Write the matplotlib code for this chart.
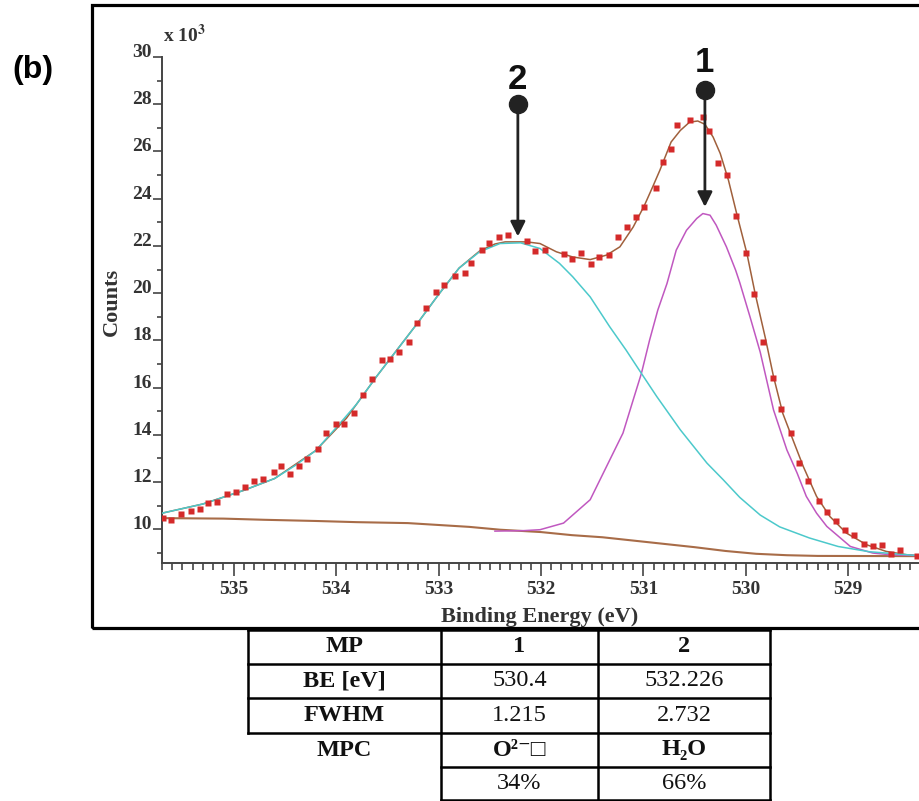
import matplotlib
matplotlib.use('Agg')
import matplotlib.pyplot as plt
from matplotlib.lines import Line2D
from matplotlib.patches import Rectangle
from matplotlib.ticker import MultipleLocator

# measured spectrum: binding energy (eV) vs counts (x 10^3)
pt_x = [535.69, 535.61, 535.51, 535.42, 535.33, 535.25, 535.16, 535.07, 534.98, 534.89,
        534.80, 534.71, 534.61, 534.54, 534.45, 534.36, 534.28, 534.18, 534.10, 534.00,
        533.92, 533.83, 533.74, 533.65, 533.55, 533.47, 533.39, 533.29, 533.21, 533.12,
        533.03, 532.95, 532.84, 532.74, 532.68, 532.58, 532.51, 532.41, 532.32, 532.14,
        532.06, 531.96, 531.78, 531.70, 531.61, 531.51, 531.43, 531.34, 531.25, 531.16,
        531.07, 530.99, 530.88, 530.81, 530.73, 530.67, 530.55, 530.42, 530.36, 530.27,
        530.18, 530.10, 530.00, 529.92, 529.83, 529.74, 529.66, 529.56, 529.48, 529.39,
        529.29, 529.21, 529.12, 529.03, 528.94, 528.85, 528.76, 528.67, 528.58, 528.50,
        528.33]
pt_y = [10.47, 10.40, 10.64, 10.78, 10.87, 11.11, 11.16, 11.50, 11.56, 11.77,
        12.05, 12.14, 12.42, 12.66, 12.36, 12.67, 12.98, 13.40, 14.07, 14.45,
        14.46, 14.94, 15.69, 16.35, 17.15, 17.20, 17.49, 17.92, 18.74, 19.37,
        20.04, 20.35, 20.72, 20.85, 21.26, 21.82, 22.13, 22.38, 22.48, 22.20,
        21.78, 21.83, 21.64, 21.45, 21.68, 21.23, 21.52, 21.61, 22.36, 22.80,
        23.23, 23.64, 24.47, 25.57, 26.12, 27.13, 27.32, 27.44, 26.86, 25.53,
        24.99, 23.27, 21.70, 19.95, 17.94, 16.42, 15.08, 14.08, 12.81, 12.05,
        11.19, 10.74, 10.33, 9.95, 9.75, 9.37, 9.27, 9.35, 8.96, 9.10,
        8.85]

# fit envelope
env_x = [535.7, 535.3, 534.9, 534.6, 534.2, 533.9, 533.6, 533.4, 533.2, 533.0,
         532.8, 532.6, 532.45, 532.35, 532.14, 532.01, 531.85, 531.69, 531.52, 531.36,
         531.23, 531.10, 530.99, 530.91, 530.84, 530.73, 530.64, 530.55, 530.47,
         530.40, 530.32, 530.25, 530.17, 530.09, 529.99, 529.91, 529.81, 529.73, 529.64,
         529.54, 529.44, 529.31, 529.18, 529.02, 528.82, 528.63, 528.43, 528.31]
env_y = [10.68, 11.07, 11.65, 12.15, 13.33, 14.70, 16.50, 17.63, 18.76, 19.94,
         21.06, 21.78, 22.08, 22.17, 22.17, 22.10, 21.75, 21.53, 21.42, 21.61,
         21.96, 22.80, 23.72, 24.50, 25.20, 26.40, 26.89, 27.24, 27.29,
         27.15, 26.61, 25.91, 24.78, 23.37, 21.68, 19.99, 18.10, 16.46, 14.91,
         13.78, 12.66, 11.39, 10.54, 9.84, 9.34, 9.06, 8.92, 8.88]

# component 2 (H2O)
c2_x = [535.7, 535.3, 534.9, 534.6, 534.4, 534.2, 534.0, 533.8, 533.6, 533.4,
        533.2, 533.0, 532.8, 532.6, 532.4, 532.2, 532.01, 531.82, 531.69, 531.52,
        531.33, 531.17, 531.02, 530.87, 530.64, 530.38, 530.22, 530.06, 529.86, 529.67,
        529.38, 529.1, 528.8, 528.31]
c2_y = [10.68, 11.07, 11.65, 12.15, 12.70, 13.33, 14.30, 15.30, 16.50, 17.63,
        18.76, 19.94, 21.06, 21.75, 22.10, 22.13, 21.89, 21.26, 20.69, 19.84,
        18.58, 17.59, 16.60, 15.62, 14.21, 12.80, 12.09, 11.35, 10.60, 10.10,
        9.63, 9.27, 9.05, 8.88]

# component 1 (O2-)
c1_x = [532.45, 532.17, 532.01, 531.78, 531.52, 531.36, 531.20, 531.10, 531.02, 530.94,
        530.86, 530.77, 530.68, 530.58, 530.48, 530.42, 530.35, 530.29, 530.19, 530.10,
        530.06, 529.96, 529.86, 529.73, 529.60, 529.50, 529.41, 529.31, 529.21, 528.98,
        528.76, 528.59, 528.3]
c1_y = [9.92, 9.94, 9.98, 10.26, 11.25, 12.66, 14.07, 15.48, 16.60, 18.01,
        19.28, 20.41, 21.82, 22.66, 23.16, 23.37, 23.30, 22.88, 21.96, 20.97,
        20.45, 19.00, 17.50, 15.05, 13.36, 12.38, 11.39, 10.68, 10.12, 9.27,
        8.99, 8.92, 8.88]

# background
bg_x = [535.7, 535.1, 534.7, 534.2, 533.8, 533.3, 533.0, 532.7, 532.4, 532.0,
        531.7, 531.4, 531.1, 530.8, 530.5, 530.2, 529.9, 529.6, 529.3, 528.3]
bg_y = [10.47, 10.45, 10.40, 10.35, 10.30, 10.26, 10.18, 10.10, 9.98, 9.88,
        9.75, 9.66, 9.52, 9.38, 9.24, 9.08, 8.96, 8.90, 8.87, 8.86]

peak_be = [530.4, 532.226]
peak_names = ['1', '2']
tip_y = [23.65, 22.4]
dot_y = [28.6, 28.0]
num_y = [29.75, 29.05]

table_rows = [
    ['MP', '1', '2'],
    ['BE [eV]', '530.4', '532.226'],
    ['FWHM', '1.215', '2.732'],
    ['MPC', 'O²⁻□', 'H₂O'],
    ['', '34%', '66%'],
]

W, H = 919, 801
plt.rcParams['font.family'] = ['Liberation Serif', 'DejaVu Serif', 'DejaVu Sans']
plt.rcParams['mathtext.fontset'] = 'stix'

fig = plt.figure(figsize=(W / 100, H / 100), dpi=100)
ax = fig.add_axes([162 / W, 1 - 563 / H, (919 - 162) / W, (563 - 57) / H])

ax.plot(bg_x, bg_y, color='#a86c48', lw=1.5, zorder=2)
ax.plot(env_x, env_y, color='#a0603c', lw=1.1, zorder=3)
ax.plot(c1_x, c1_y, color='#c058c0', lw=1.1, zorder=4)
ax.plot(c2_x, c2_y, color='#4cc9cb', lw=1.1, zorder=5)
ax.plot(pt_x, pt_y, 's', ms=4.3, color='#d42a2a', mec='none', zorder=6)

for be, name, ty, dy, ny in zip(peak_be, peak_names, tip_y, dot_y, num_y):
    ax.annotate('', xy=(be, ty), xytext=(be, dy),
                arrowprops=dict(arrowstyle='-|>', lw=2, color='#222222',
                                mutation_scale=22, shrinkA=0, shrinkB=0), zorder=8)
    ax.plot(be, dy, 'o', ms=13, color='#222222', zorder=9, clip_on=False)
    ax.text(be, ny, name, ha='center', va='center', fontsize=25, fontweight='bold',
            family='Liberation Sans', color='#111111', clip_on=False)

ax.set_xlim(535.70, 528.31)
ax.set_ylim(8.57, 30)
ax.set_xticks([535, 534, 533, 532, 531, 530, 529])
ax.set_yticks(list(range(10, 31, 2)))
ax.xaxis.set_minor_locator(MultipleLocator(0.1))
ax.yaxis.set_minor_locator(MultipleLocator(1))

for s in ['top', 'right']:
    ax.spines[s].set_visible(False)
for s in ['left', 'bottom']:
    ax.spines[s].set_color('#444444')
    ax.spines[s].set_linewidth(1.4)

ax.tick_params(which='both', direction='out', color='#444444', width=1.2,
               labelcolor='#333333', labelsize=14)
ax.tick_params(axis='x', which='major', length=9, pad=4)
ax.tick_params(axis='x', which='minor', length=5)
ax.tick_params(axis='y', which='major', length=6.5, pad=1)
ax.tick_params(axis='y', which='minor', length=3.6)
for lab in ax.get_xticklabels() + ax.get_yticklabels():
    lab.set_fontweight('bold')
for lab in ax.get_yticklabels():
    lab.set_va('baseline')

ax.set_xlabel('Binding Energy (eV)', fontsize=16, fontweight='bold', color='#333333', va='center')
ax.xaxis.set_label_coords((540 - 162) / 757, (563 - 617) / 506)
ax.set_ylabel('Counts', fontsize=16, fontweight='bold', color='#333333', va='center')
ax.yaxis.set_label_coords((112 - 162) / 757, (563 - 302) / 506)

fig.text(163 / W, 1 - 42 / H, r'x 10$^{\mathbf{3}}$', fontsize=14, fontweight='bold',
         color='#333333', va='baseline', ha='left')
fig.text(33 / W, 1 - 70 / H, '(b)', fontsize=23, fontweight='bold',
         family='Liberation Sans', ha='center', va='center')

# outer frame
fig.add_artist(Rectangle((91.5 / W, 1 - 628 / H), (940 - 91.5) / W, (628 - 5) / H,
                         transform=fig.transFigure, fill=False, lw=2.3,
                         edgecolor='black', clip_on=False))

# table below the chart
col_edges = [248, 441, 598, 770]
row_edges = [630, 664, 698, 733, 767, 800]


def hline(y, x0, x1):
    fig.add_artist(Line2D([x0 / W, x1 / W], [1 - y / H, 1 - y / H],
                          transform=fig.transFigure, color='black', lw=1.8))


def vline(x, y0, y1):
    fig.add_artist(Line2D([x / W, x / W], [1 - y0 / H, 1 - y1 / H],
                          transform=fig.transFigure, color='black', lw=1.8))


for i, y in enumerate(row_edges):
    x0 = col_edges[0] if i <= 3 else col_edges[1]
    hline(y, x0, col_edges[-1])
vline(col_edges[0], row_edges[0], row_edges[3])
for x in col_edges[1:]:
    vline(x, row_edges[0], row_edges[-1])

bold_cells = {(0, 0), (0, 1), (0, 2), (1, 0), (2, 0), (3, 0), (3, 1), (3, 2)}
for r, row in enumerate(table_rows):
    yc = (row_edges[r] + row_edges[r + 1]) / 2
    for c, txt in enumerate(row):
        if not txt:
            continue
        xc = (col_edges[c] + col_edges[c + 1]) / 2
        fig.text(xc / W, 1 - yc / H, txt, ha='center', va='center', fontsize=17.5,
                 fontweight='bold' if (r, c) in bold_cells else 'normal', color='#111111')

fig.savefig('out.png', dpi=100)
